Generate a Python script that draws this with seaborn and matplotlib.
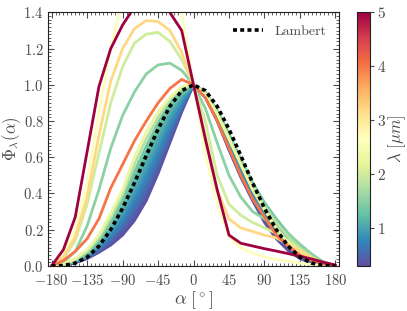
import matplotlib
matplotlib.use("Agg")
import matplotlib.pyplot as plt
from matplotlib.ticker import MultipleLocator
import seaborn as sns, numpy as np
import pandas as pd

# phase angle grid [deg]
alpha = [-180, -165, -150, -135, -120, -105, -90, -75, -60, -45, -30, -15, 0,
         15, 30, 45, 60, 75, 90, 105, 120, 135, 150, 165, 180]

lambert = [0.0, 0.002, 0.015, 0.048, 0.109, 0.200, 0.318, 0.458, 0.609, 0.755, 0.881, 0.968, 1.0,
           0.968, 0.881, 0.755, 0.609, 0.458, 0.318, 0.200, 0.109, 0.048, 0.015, 0.002, 0.0]

# wavelengths [micron] of the plotted phase curves
wavelengths = [0.3, 0.375, 0.45, 0.525, 0.6, 0.675, 0.75, 0.825, 0.9, 0.975, 1.05, 1.125,
               1.2, 1.275, 1.35, 1.5, 1.8, 2.0, 2.3, 2.6, 3.2, 4.0, 5.0]

phase_0p300 = [0.0, 0.004, 0.018, 0.040, 0.075, 0.115, 0.170, 0.25, 0.36, 0.51, 0.68, 0.85, 1.0,
               0.93, 0.80, 0.64, 0.49, 0.36, 0.24, 0.15, 0.085, 0.04, 0.015, 0.003, 0.0]
phase_0p375 = [0.0, 0.004, 0.019, 0.042, 0.080, 0.124, 0.185, 0.27, 0.38, 0.53, 0.695, 0.86, 1.0,
               0.932, 0.805, 0.645, 0.495, 0.365, 0.25, 0.16, 0.092, 0.045, 0.018, 0.004, 0.0]
phase_0p450 = [0.0, 0.004, 0.020, 0.044, 0.084, 0.133, 0.199, 0.29, 0.40, 0.55, 0.71, 0.87, 1.0,
               0.934, 0.81, 0.65, 0.50, 0.37, 0.26, 0.17, 0.10, 0.05, 0.02, 0.005, 0.0]
phase_0p525 = [0.0, 0.0045, 0.021, 0.047, 0.089, 0.142, 0.213, 0.31, 0.425, 0.57, 0.725, 0.875, 1.0,
               0.936, 0.815, 0.66, 0.51, 0.38, 0.265, 0.175, 0.105, 0.055, 0.025, 0.0065, 0.0]
phase_0p600 = [0.0, 0.005, 0.021, 0.049, 0.094, 0.151, 0.227, 0.33, 0.45, 0.59, 0.74, 0.88, 1.0,
               0.939, 0.82, 0.67, 0.52, 0.39, 0.27, 0.18, 0.11, 0.06, 0.03, 0.008, 0.0]
phase_0p675 = [0.0, 0.005, 0.022, 0.051, 0.099, 0.160, 0.240, 0.35, 0.47, 0.61, 0.755, 0.89, 1.0,
               0.941, 0.825, 0.675, 0.525, 0.395, 0.28, 0.19, 0.118, 0.065, 0.032, 0.009, 0.0]
phase_0p750 = [0.0, 0.005, 0.023, 0.053, 0.103, 0.169, 0.256, 0.37, 0.49, 0.63, 0.77, 0.90, 1.0,
               0.943, 0.83, 0.68, 0.53, 0.40, 0.29, 0.20, 0.125, 0.07, 0.035, 0.010, 0.0]
phase_0p825 = [0.0, 0.005, 0.024, 0.055, 0.108, 0.178, 0.270, 0.385, 0.51, 0.65, 0.79, 0.91, 1.0,
               0.945, 0.83, 0.685, 0.54, 0.41, 0.295, 0.205, 0.133, 0.075, 0.038, 0.011, 0.0]
phase_0p900 = [0.0, 0.005, 0.025, 0.057, 0.112, 0.186, 0.284, 0.40, 0.53, 0.67, 0.81, 0.92, 1.0,
               0.947, 0.83, 0.69, 0.55, 0.42, 0.30, 0.21, 0.14, 0.08, 0.04, 0.012, 0.0]
phase_0p975 = [0.0, 0.005, 0.026, 0.059, 0.117, 0.195, 0.299, 0.42, 0.55, 0.69, 0.825, 0.93, 1.0,
               0.949, 0.835, 0.695, 0.555, 0.425, 0.31, 0.22, 0.145, 0.085, 0.045, 0.013, 0.0]
phase_1p050 = [0.0, 0.005, 0.027, 0.061, 0.121, 0.204, 0.313, 0.44, 0.57, 0.71, 0.84, 0.94, 1.0,
               0.951, 0.84, 0.70, 0.56, 0.43, 0.32, 0.23, 0.15, 0.09, 0.05, 0.015, 0.0]
phase_1p125 = [0.0, 0.0055, 0.028, 0.064, 0.126, 0.213, 0.327, 0.46, 0.595, 0.73, 0.855, 0.945, 1.0,
               0.953, 0.845, 0.71, 0.57, 0.44, 0.325, 0.235, 0.158, 0.095, 0.052, 0.016, 0.0]
phase_1p200 = [0.0, 0.006, 0.028, 0.066, 0.131, 0.222, 0.341, 0.48, 0.62, 0.75, 0.87, 0.95, 1.0,
               0.956, 0.85, 0.72, 0.58, 0.45, 0.33, 0.24, 0.165, 0.10, 0.055, 0.017, 0.0]
phase_1p275 = [0.0, 0.006, 0.029, 0.068, 0.136, 0.231, 0.356, 0.50, 0.64, 0.77, 0.885, 0.96, 1.0,
               0.958, 0.855, 0.725, 0.585, 0.455, 0.34, 0.25, 0.172, 0.105, 0.058, 0.018, 0.0]
phase_1p350 = [0.0, 0.006, 0.030, 0.070, 0.140, 0.240, 0.370, 0.52, 0.66, 0.79, 0.90, 0.97, 1.0,
               0.96, 0.86, 0.73, 0.59, 0.46, 0.35, 0.26, 0.18, 0.11, 0.06, 0.02, 0.0]
phase_1p500 = [0.0, 0.02, 0.08, 0.22, 0.42, 0.65, 0.83, 0.96, 1.06, 1.11, 1.12, 1.08, 1.0,
               0.87, 0.68, 0.50, 0.38, 0.30, 0.26, 0.22, 0.18, 0.12, 0.065, 0.02, 0.0]
phase_1p800 = [0.0, 0.008, 0.035, 0.080, 0.155, 0.265, 0.395, 0.56, 0.70, 0.82, 0.92, 0.98, 1.0,
               0.955, 0.85, 0.71, 0.57, 0.44, 0.33, 0.24, 0.16, 0.10, 0.05, 0.015, 0.0]
phase_2p000 = [0.0, 0.04, 0.14, 0.34, 0.62, 0.90, 1.10, 1.23, 1.28, 1.29, 1.24, 1.14, 1.0,
               0.80, 0.50, 0.34, 0.28, 0.24, 0.21, 0.18, 0.14, 0.09, 0.045, 0.015, 0.0]
phase_2p300 = [0.0, 0.01, 0.04, 0.09, 0.17, 0.29, 0.42, 0.60, 0.74, 0.85, 0.93, 0.99, 1.0,
               0.95, 0.84, 0.70, 0.56, 0.42, 0.31, 0.21, 0.13, 0.075, 0.035, 0.01, 0.0]
phase_2p600 = [0.0, 0.06, 0.20, 0.46, 0.85, 1.20, 1.48, 1.62, 1.68, 1.66, 1.58, 1.40, 1.0,
               0.62, 0.35, 0.16, 0.10, 0.07, 0.05, 0.035, 0.025, 0.015, 0.008, 0.003, 0.0]
phase_3p200 = [0.0, 0.05, 0.16, 0.38, 0.72, 1.02, 1.20, 1.31, 1.355, 1.35, 1.30, 1.18, 1.0,
               0.72, 0.42, 0.26, 0.21, 0.19, 0.17, 0.155, 0.12, 0.085, 0.045, 0.015, 0.0]
phase_4p000 = [0.0, 0.03, 0.08, 0.15, 0.26, 0.43, 0.56, 0.69, 0.80, 0.90, 0.98, 1.03, 1.0,
               0.93, 0.80, 0.65, 0.50, 0.37, 0.27, 0.17, 0.11, 0.06, 0.03, 0.01, 0.0]
phase_5p000 = [0.0, 0.09, 0.27, 0.63, 0.99, 1.20, 1.33, 1.43, 1.50, 1.48, 1.40, 1.30, 1.0,
               0.70, 0.42, 0.17, 0.125, 0.11, 0.095, 0.082, 0.068, 0.053, 0.038, 0.02, 0.005]

phases = [phase_0p300, phase_0p375, phase_0p450, phase_0p525, phase_0p600, phase_0p675,
          phase_0p750, phase_0p825, phase_0p900, phase_0p975, phase_1p050, phase_1p125,
          phase_1p200, phase_1p275, phase_1p350, phase_1p500, phase_1p800, phase_2p000,
          phase_2p300, phase_2p600, phase_3p200, phase_4p000, phase_5p000]

df = pd.DataFrame(
    [(lam, a, v) for lam, vals in zip(wavelengths, phases) for a, v in zip(alpha, vals)],
    columns=["wavelength", "alpha", "phase"],
)

sns.set_style("ticks")
plt.rcParams["font.family"] = "serif"
plt.rcParams["font.serif"] = ["cmr10", "DejaVu Serif"]
plt.rcParams["mathtext.fontset"] = "cm"
plt.rcParams["axes.unicode_minus"] = False
plt.rcParams["axes.formatter.use_mathtext"] = True
grey = "#4a4a4a"

fig = plt.figure(figsize=(4.07, 3.11), dpi=100)
ax = fig.add_axes([0.119, 0.145, 0.713, 0.815])

vmin, vmax = 0.3, 5.0
sns.lineplot(data=df, x="alpha", y="phase", hue="wavelength", palette="Spectral_r",
             hue_norm=(vmin, vmax), estimator=None, lw=2, legend=False, ax=ax)
ax.plot(alpha, lambert, color="k", lw=2.6, linestyle=(0, (1.1, 0.9)), label="Lambert")

ax.set_xlim(-184, 184)
ax.set_ylim(0, 1.4)
ax.set_xticks([-180, -135, -90, -45, 0, 45, 90, 135, 180])
ax.set_yticks(np.arange(0, 1.41, 0.2))
ax.xaxis.set_minor_locator(MultipleLocator(5))
ax.yaxis.set_minor_locator(MultipleLocator(0.02))
ax.tick_params(which="both", direction="in", top=True, right=True, colors=grey,
               labelsize=10.5, labelcolor=grey)
ax.tick_params(which="major", length=4)
ax.tick_params(which="minor", length=2)
ax.tick_params(axis="x", pad=5)
for s in ax.spines.values():
    s.set_color("#222222")
ax.set_xlabel(r"$\alpha\ [^\circ]$", fontsize=13, color=grey, labelpad=1)
ax.set_ylabel(r"$\Phi_\lambda(\alpha)$", fontsize=12, color=grey, labelpad=0)
ax.legend(loc="upper right", frameon=False, fontsize=10, handlelength=2.2,
          labelcolor=grey)

cax = fig.add_axes([0.877, 0.145, 0.032, 0.817])
sm = plt.cm.ScalarMappable(cmap="Spectral_r", norm=plt.Normalize(vmin, vmax))
cb = fig.colorbar(sm, cax=cax)
cb.set_ticks([1, 2, 3, 4, 5])
cb.ax.tick_params(labelsize=11, colors=grey, labelcolor=grey, length=3, pad=2)
cb.outline.set_edgecolor("#222222")
cb.set_label(r"$\lambda\ [\mu m]$", fontsize=12, color=grey, labelpad=0)

fig.savefig("out.png", dpi=100)
